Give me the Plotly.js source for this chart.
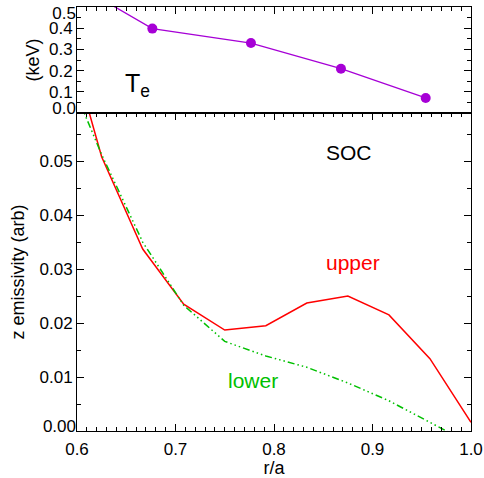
<!DOCTYPE html>
<html>
<head>
<meta charset="utf-8">
<script src="https://cdn.plot.ly/plotly-3.0.1.min.js"></script>
<style>html,body{margin:0;padding:0;background:#fff;}#chart{width:484px;height:478px;}</style>
</head>
<body>
<div id="chart"></div>
<script>
// Data
const teR = [0.58, 0.6765, 0.7766, 0.868, 0.954];
const teKeV = [0.658, 0.398, 0.330, 0.209, 0.071];

const rOverA = [0.5833, 0.625, 0.6667, 0.7083, 0.75, 0.7917, 0.8333, 0.875, 0.9167, 0.9583, 1.0];
const upperEmis = [0.0778, 0.0508, 0.0337, 0.0235, 0.0187, 0.0195, 0.0237, 0.0250, 0.0215, 0.0134, 0.0016];
const lowerEmis = [0.0694, 0.0512, 0.0350, 0.0233, 0.0166, 0.0139, 0.0118, 0.0089, 0.0056, 0.0016, -0.0024];

const xTickVals = [0.6, 0.7, 0.8, 0.9, 1.0];
const xTickText = ['0.6', '0.7', '0.8', '0.9', '1.0'];
const yTickVals = [0.00, 0.01, 0.02, 0.03, 0.04, 0.05];
const yTickText = ['', '0.01', '0.02', '0.03', '0.04', '0.05'];
const teTickVals = [0.0, 0.1, 0.2, 0.3, 0.4, 0.5];
const teTickText = ['', '0.1', '0.2', '0.3', '0.4', ''];

const FONT = 'Liberation Sans, Arial, sans-serif';
const TICKSIZE = 17;
const TITLESIZE = 18;
const purple = '#a600d6';
const red = '#ff0000';
const green = '#00c000';

const traces = [
  {x: rOverA, y: upperEmis, xaxis: 'x', yaxis: 'y', mode: 'lines', line: {color: red, width: 1.5}, showlegend: false},
  {x: rOverA, y: lowerEmis, xaxis: 'x', yaxis: 'y', mode: 'lines', line: {color: green, width: 1.5, dash: '7px,3px,1.5px,3px,1.5px,3px,1.5px,3px'}, showlegend: false},
  {x: teR, y: teKeV, xaxis: 'x2', yaxis: 'y2', mode: 'lines+markers', line: {color: purple, width: 1.3}, marker: {color: purple, size: 10}, showlegend: false},
  // empty traces so the overlay label axes are drawn
  {x: [], y: [], xaxis: 'x', yaxis: 'y3', mode: 'lines', showlegend: false, hoverinfo: 'skip'},
  {x: [], y: [], xaxis: 'x2', yaxis: 'y4', mode: 'lines', showlegend: false, hoverinfo: 'skip'},
  {x: [], y: [], xaxis: 'x2', yaxis: 'y5', mode: 'lines', showlegend: false, hoverinfo: 'skip'}
];

const common = {
  showline: true, linecolor: '#000', linewidth: 1, showgrid: false, zeroline: false,
  ticks: 'inside', ticklen: 7, tickwidth: 1, tickcolor: '#000',
  tickfont: {family: FONT, size: TICKSIZE, color: '#000'}
};
const overlayCommon = {
  showline: false, showgrid: false, zeroline: false, ticks: '', side: 'left',
  tickfont: {family: FONT, size: TICKSIZE, color: '#000'}, fixedrange: true
};

const layout = {
  width: 484, height: 478,
  margin: {l: 77, r: 13, t: 7, b: 47},
  paper_bgcolor: '#fff', plot_bgcolor: '#fff',
  font: {family: FONT, color: '#000'},
  xaxis: Object.assign({}, common, {
    domain: [0, 1], anchor: 'y', range: [0.6, 1.0], mirror: 'ticks',
    tickvals: xTickVals, ticktext: xTickText, ticklabelstandoff: 3,
    minor: {ticks: 'inside', ticklen: 4, tickwidth: 1, tickcolor: '#000', dtick: 0.01},
    title: {text: 'r/a', font: {family: FONT, size: TITLESIZE}, standoff: 0}
  }),
  yaxis: Object.assign({}, common, {
    domain: [0, 0.75], anchor: 'x', range: [0, 0.0589], mirror: 'ticks',
    tickvals: yTickVals, ticktext: yTickText,
    minor: {ticks: 'inside', ticklen: 4, tickwidth: 1, tickcolor: '#000', dtick: 0.005, tick0: 0},
    title: {text: 'z emissivity (arb)', font: {family: FONT, size: TITLESIZE}, standoff: 10}
  }),
  yaxis3: Object.assign({}, overlayCommon, {
    overlaying: 'y', anchor: 'x', range: [0, 0.0589],
    tickvals: [0], ticktext: ['0.00'], ticklabelshift: -5
  }),
  xaxis2: Object.assign({}, common, {
    domain: [0, 1], anchor: 'y2', range: [0.6, 1.0], side: 'top', mirror: true,
    tickvals: xTickVals, showticklabels: false,
    minor: {ticks: 'inside', ticklen: 4, tickwidth: 1, tickcolor: '#000', dtick: 0.01}
  }),
  yaxis2: Object.assign({}, common, {
    domain: [0.75, 1], anchor: 'x2', range: [0, 0.5], mirror: 'ticks', automargin: true,
    tickvals: teTickVals, ticktext: teTickText,
    minor: {ticks: 'inside', ticklen: 4, tickwidth: 1, tickcolor: '#000', dtick: 0.05, tick0: 0},
    title: {text: '(keV)', font: {family: FONT, size: TITLESIZE}, standoff: 4}
  }),
  yaxis4: Object.assign({}, overlayCommon, {
    overlaying: 'y2', anchor: 'x2', range: [0, 0.5],
    tickvals: [0], ticktext: ['0.0'], ticklabelshift: -5
  }),
  yaxis5: Object.assign({}, overlayCommon, {
    overlaying: 'y2', anchor: 'x2', range: [0, 0.5],
    tickvals: [0.5], ticktext: ['0.5'], ticklabelshift: 6
  }),
  annotations: [
    {xref: 'x2', yref: 'y2', x: 0.661, y: 0.13, text: 'T<sub>e</sub>', showarrow: false, font: {family: FONT, size: 25, color: '#000'}},
    {xref: 'x', yref: 'y', x: 0.8758, y: 0.0515, text: 'SOC', showarrow: false, font: {family: FONT, size: 21, color: '#000'}},
    {xref: 'x', yref: 'y', x: 0.8802, y: 0.0312, text: 'upper', showarrow: false, font: {family: FONT, size: 21, color: red}},
    {xref: 'x', yref: 'y', x: 0.7782, y: 0.0093, text: 'lower', showarrow: false, font: {family: FONT, size: 21, color: green}}
  ]
};

Plotly.newPlot('chart', traces, layout, {staticPlot: true, displayModeBar: false});
</script>
</body>
</html>
